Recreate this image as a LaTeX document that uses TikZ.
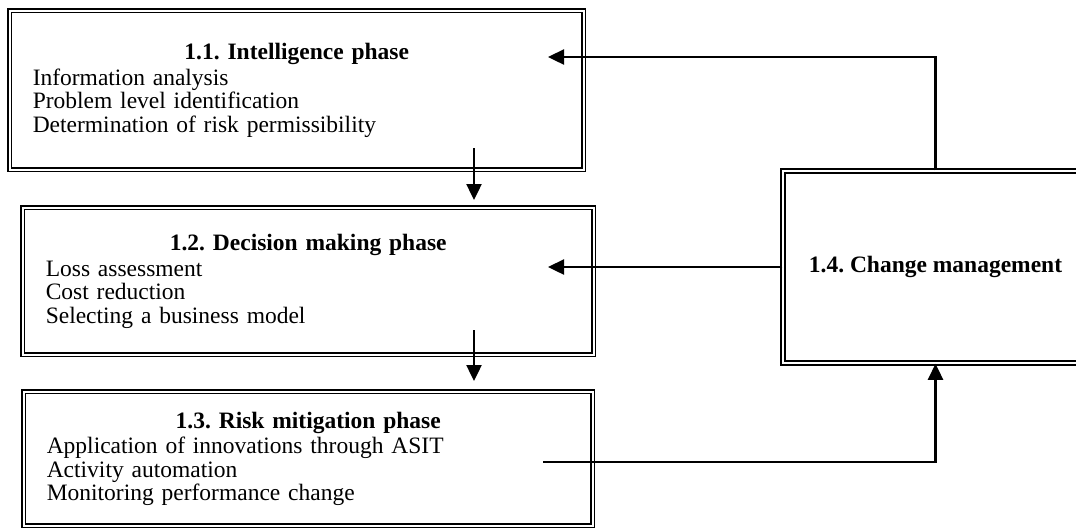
\documentclass[tikz,border=0pt]{standalone}
\usepackage{fontspec}
\setmainfont{Liberation Serif}
\usetikzlibrary{positioning,arrows.meta}
\frenchspacing

\begin{document}
\begin{tikzpicture}[
    x=0.5pt, y=-0.5pt,
    stage/.style={rectangle, draw, double, double distance=1.2pt, line width=0.75pt, text width=#1, inner xsep=11.5pt, inner ysep=0pt, align=left, anchor=north west, font=\fontsize{11.75}{11.75}\selectfont},
    manage/.style={rectangle, draw, double, double distance=1.2pt, line width=0.75pt, minimum width=152.5pt, minimum height=96pt, align=center, font=\fontsize{11.75}{11.75}\selectfont\bfseries},
    arrow/.style={-{Triangle[length=8pt, width=7.5pt]}, line width=1.2pt},
]
\useasboundingbox (0,0) rectangle (1076,527);

\node[stage=264pt, minimum height=79.5pt] (intel) at (9,10) {\hfill\textbf{1.1. Intelligence phase}\hfill\null\\[1pt] Information analysis\\ Problem level identification\\ Determination of risk permissibility};
\node[stage=262.5pt, minimum height=73.5pt] (decision) at (22,207) {\hfill\textbf{1.2. Decision making phase}\hfill\null\\[1pt] Loss assessment\\ Cost reduction\\ Selecting a business model};
\node[stage=261.5pt, minimum height=67pt] (mitig) at (23,391) {\hfill\textbf{1.3. Risk mitigation phase}\hfill\null\\[1pt] Application of innovations through ASIT\\ Activity automation\\ Monitoring performance change};
\node[manage] (change) at (935.5,267) {1.4. Change management};

% arrow ends inside the phase boxes
\coordinate (in1) at (548,57);
\coordinate (out1) at (474,148);
\coordinate (in2) at (474,200);
\coordinate (back2) at (548,267);
\coordinate (out2) at (474,330);
\coordinate (in3) at (474,381);
\coordinate (out3) at (543,462);

\draw[arrow] (change.north) |- (in1);
\draw[arrow] (out1) -- (in2);
\draw[arrow] (change.west) -- (back2);
\draw[arrow] (out2) -- (in3);
\draw[arrow] (out3) -| (change.south);

\end{tikzpicture}
\end{document}
